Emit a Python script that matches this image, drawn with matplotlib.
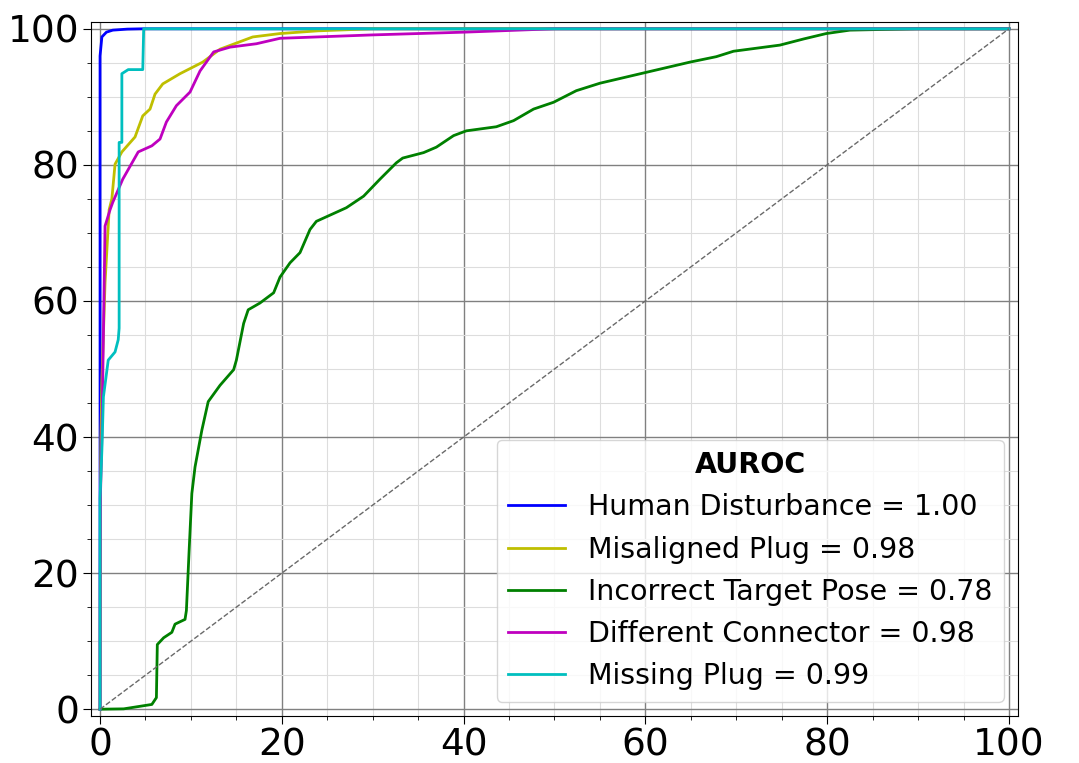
import matplotlib
matplotlib.use('Agg')
import matplotlib.pyplot as plt
from matplotlib.ticker import MultipleLocator

# ROC curves (false positive rate %, true positive rate %)
human_x = [0, 0, 0.2, 0.7, 1.4, 3.0, 4.7, 100]
human_y = [0, 96, 98.8, 99.5, 99.8, 99.95, 100, 100]

misaligned_x = [0, 0.05, 0.1, 0.2, 0.55, 1.0, 1.3, 1.65, 2.4, 3.85, 4.7, 5.5, 6.05, 6.9,
                8.8, 11.3, 13.2, 15.0, 16.8, 19.8, 24, 30, 100]
misaligned_y = [0, 30, 40, 48, 62.7, 73.4, 75, 80.1, 81.9, 84.1, 87.2, 88.2, 90.4, 91.9,
                93.4, 95.1, 97.0, 97.9, 98.8, 99.3, 99.7, 100, 100]

target_x = [0, 2.6, 5.7, 6.2, 6.3, 7.0, 7.9, 8.25, 9.35, 9.5, 9.8, 10.1, 10.45, 11.2,
            11.9, 13.2, 14.7, 15.0, 15.8, 16.3, 17.6, 19.1, 19.8, 20.9, 22.0, 23.1,
            23.8, 27.1, 29.0, 30.8, 32.6, 33.3, 35.6, 37.0, 38.9, 40.3, 43.6, 45.5,
            47.7, 49.9, 52.4, 55.0, 60.1, 64.9, 67.8, 69.7, 74.8, 77.4, 79.9, 82.5,
            86.1, 90, 100]
target_y = [0, 0.05, 0.7, 1.7, 9.5, 10.5, 11.3, 12.5, 13.2, 14.5, 23.3, 31.7, 35.6, 41,
            45.2, 47.6, 49.9, 51.3, 56.7, 58.7, 59.7, 61.2, 63.5, 65.6, 67.1, 70.5,
            71.7, 73.7, 75.4, 77.9, 80.3, 81.0, 81.8, 82.6, 84.3, 85.0, 85.6, 86.5,
            88.2, 89.2, 90.9, 92.0, 93.6, 95.1, 95.9, 96.7, 97.6, 98.5, 99.3, 99.8,
            99.9, 100, 100]

connector_x = [0, 0.02, 0.05, 0.2, 0.55, 1.1, 1.4, 2.5, 4.2, 5.7, 6.6, 7.3, 8.4, 9.9,
               11.0, 12.5, 14.3, 17.2, 19.8, 30, 40, 50, 100]
connector_y = [0, 20, 31.7, 40, 71, 73.4, 74.5, 77.9, 81.9, 82.8, 83.8, 86.3, 88.7, 90.7,
               93.8, 96.6, 97.3, 97.8, 98.6, 99.1, 99.5, 100, 100]

missing_x = [0, 0, 0.2, 0.37, 0.9, 1.65, 2.0, 2.1, 2.1, 2.4, 2.4, 3.1, 4.7, 4.8, 100]
missing_y = [0, 31, 38, 45.9, 51.3, 52.5, 54.3, 56, 83.3, 83.3, 93.4, 94, 94, 100, 100]

labels = ['Human Disturbance = 1.00', 'Misaligned Plug = 0.98',
          'Incorrect Target Pose = 0.78', 'Different Connector = 0.98',
          'Missing Plug = 0.99']
colors = ['b', 'y', 'g', 'm', 'c']

fig, ax = plt.subplots(figsize=(10.79, 7.63), dpi=100)
fig.subplots_adjust(left=0.0843, right=0.9435, top=0.9712, bottom=0.0616)

curves = [(human_x, human_y), (misaligned_x, misaligned_y), (target_x, target_y),
          (connector_x, connector_y), (missing_x, missing_y)]
for (x, y), c, lab in zip(curves, colors, labels):
    ax.plot(x, y, color=c, lw=2, label=lab)

ax.plot([0, 100], [0, 100], '--', color='dimgray', lw=1)

ax.set_xlim(-1, 101)
ax.set_ylim(-1, 101)
ax.xaxis.set_major_locator(MultipleLocator(20))
ax.yaxis.set_major_locator(MultipleLocator(20))
ax.xaxis.set_minor_locator(MultipleLocator(5))
ax.yaxis.set_minor_locator(MultipleLocator(5))
ax.grid(which='major', color='gray', lw=1)
ax.grid(which='minor', color='#dddddd', lw=0.8)
ax.set_axisbelow(True)
ax.tick_params(axis='both', which='major', labelsize=27, length=6, pad=2.5)
ax.tick_params(axis='both', which='minor', length=3)

leg = ax.legend(loc='lower right', fontsize=20.5, title='AUROC',
                title_fontproperties={'weight': 'bold', 'size': 20.5})

plt.savefig('out.png')
